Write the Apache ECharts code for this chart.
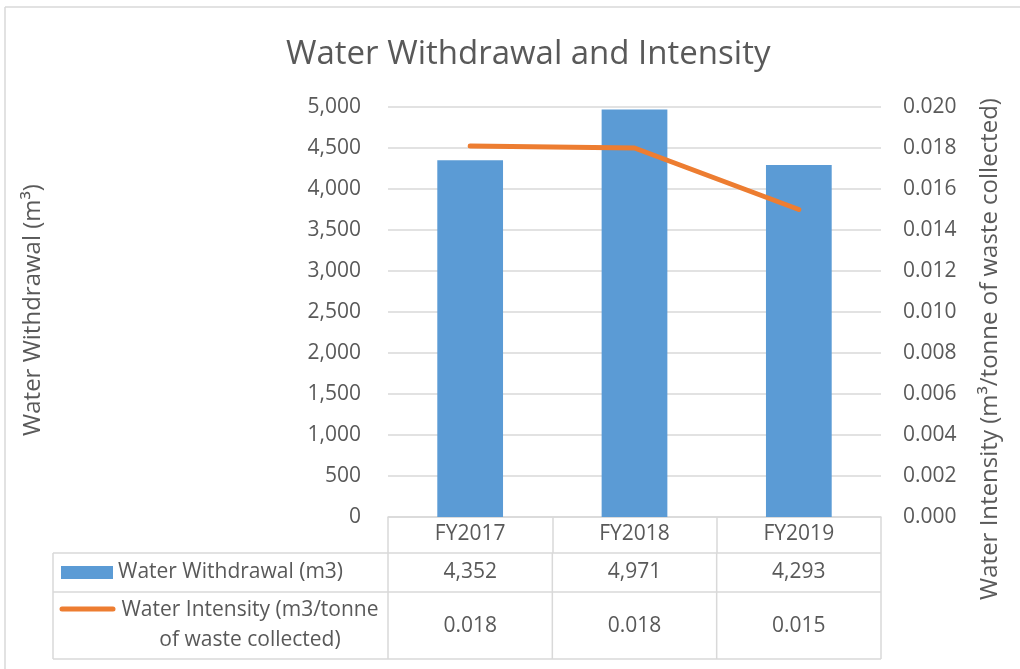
<!DOCTYPE html>
<html>
<head>
<meta charset="utf-8">
<title>Water Withdrawal and Intensity</title>
<script src="https://cdn.jsdelivr.net/npm/echarts@6/dist/echarts.min.js"></script>
<style>
  html, body { margin: 0; padding: 0; background: #fff; }
  #main { width: 1020px; height: 669px; }
</style>
</head>
<body>
<div id="main"></div>
<script>
// data
var years = ['FY2017', 'FY2018', 'FY2019'];
var withdrawal = [4352, 4971, 4293];
var intensity = [0.0181, 0.0180, 0.0150];
var intensityShown = [0.018, 0.018, 0.015];
var seriesNames = ['Water Withdrawal (m3)', 'Water Intensity (m3/tonne\nof waste collected)'];

var FONT = 'Open Sans';
var TXT = '#595959';
var LINE = '#D9D9D9';
var BLUE = '#5B9BD5';
var ORANGE = '#ED7D31';

var chart = echarts.init(document.getElementById('main'));

var option = {
  backgroundColor: '#fff',
  animation: false,
  textStyle: { fontFamily: FONT, color: TXT },
  title: {
    text: 'Water Withdrawal and Intensity',
    left: 281,
    top: 33,
    textStyle: { fontFamily: FONT, fontSize: 33, fontWeight: 'normal', color: TXT }
  },
  grid: { left: 388, right: 139, top: 107, bottom: 152 },
  xAxis: {
    type: 'category',
    data: years,
    axisLine: { lineStyle: { color: LINE, width: 1.5 } },
    axisTick: { show: true, length: 36, lineStyle: { color: LINE, width: 1.5 } },
    axisLabel: { margin: 7, fontSize: 21, color: TXT, fontFamily: FONT }
  },
  yAxis: [{
    type: 'value',
    min: 0, max: 5000, interval: 500,
    axisLine: { show: false },
    axisTick: { show: false },
    splitLine: { lineStyle: { color: LINE, width: 1.5 } },
    axisLabel: {
      margin: 27, fontSize: 21, color: TXT, fontFamily: FONT,
      formatter: function (v) { return v.toLocaleString('en-US'); }
    }
  }, {
    type: 'value',
    min: 0, max: 0.02, interval: 0.002,
    axisLine: { show: false },
    axisTick: { show: false },
    splitLine: { show: false },
    axisLabel: {
      margin: 22, fontSize: 21, color: TXT, fontFamily: FONT,
      formatter: function (v) { return v.toFixed(3); }
    }
  }],
  series: [{
    name: seriesNames[0],
    type: 'bar',
    data: withdrawal,
    barWidth: '40%',
    itemStyle: { color: BLUE },
    yAxisIndex: 0
  }, {
    name: seriesNames[1],
    type: 'line',
    data: intensity,
    yAxisIndex: 1,
    symbol: 'none',
    lineStyle: { color: ORANGE, width: 5, cap: 'round' },
    itemStyle: { color: ORANGE }
  }]
};
chart.setOption(option);

// 数据表 (data table under the plot)
function drawTable() {
  var edges = [];
  var half = (chart.convertToPixel({ xAxisIndex: 0 }, 1) - chart.convertToPixel({ xAxisIndex: 0 }, 0)) / 2;
  for (var i = 0; i < years.length; i++) {
    var c = chart.convertToPixel({ xAxisIndex: 0 }, i);
    if (i === 0) edges.push(c - half);
    edges.push(c + half);
  }
  var tLeft = 53, r0 = 553, r1 = 592, r2 = 659;
  var right = edges[edges.length - 1];
  var f = '21px "' + FONT + '"';
  var els = [];
  var ls = { stroke: LINE, lineWidth: 1.5 };
  [r0, r1, r2].forEach(function (y) {
    els.push({ type: 'line', shape: { x1: tLeft, y1: y, x2: right, y2: y }, style: ls, silent: true });
  });
  [tLeft].concat(edges).forEach(function (x) {
    els.push({ type: 'line', shape: { x1: x, y1: r0, x2: x, y2: r2 }, style: ls, silent: true });
  });
  // legend keys
  els.push({ type: 'rect', shape: { x: 61, y: 566, width: 52, height: 13 }, style: { fill: BLUE } });
  els.push({ type: 'line', shape: { x1: 62, y1: 609, x2: 113, y2: 609 },
    style: { stroke: ORANGE, lineWidth: 5, lineCap: 'round' } });
  els.push({ type: 'text', x: 118, y: 572, style: {
    text: seriesNames[0], font: f, fill: TXT, textAlign: 'left', textVerticalAlign: 'middle' } });
  els.push({ type: 'text', x: 250, y: 625, style: {
    text: seriesNames[1], font: f, fill: TXT, textAlign: 'center',
    textVerticalAlign: 'middle', lineHeight: 30 } });
  for (var j = 0; j < years.length; j++) {
    var cx = chart.convertToPixel({ xAxisIndex: 0 }, j);
    els.push({ type: 'text', x: cx, y: 572, style: {
      text: withdrawal[j].toLocaleString('en-US'), font: f, fill: TXT,
      textAlign: 'center', textVerticalAlign: 'middle' } });
    els.push({ type: 'text', x: cx, y: 626, style: {
      text: intensityShown[j].toFixed(3), font: f, fill: TXT,
      textAlign: 'center', textVerticalAlign: 'middle' } });
  }
  // axis names
  els.push({ type: 'text', x: 33, y: 310, rotation: Math.PI / 2, style: {
    text: 'Water Withdrawal (m\u00b3)', font: '24px "' + FONT + '"', fill: TXT,
    textAlign: 'center', textVerticalAlign: 'middle' } });
  els.push({ type: 'text', x: 990, y: 349, rotation: Math.PI / 2, style: {
    text: 'Water Intensity (m\u00b3/tonne of waste collected)', font: '24px "' + FONT + '"', fill: TXT,
    textAlign: 'center', textVerticalAlign: 'middle' } });
  // chart border
  els.push({ type: 'line', shape: { x1: 5, y1: 7, x2: 1020, y2: 7 }, style: ls, silent: true });
  els.push({ type: 'line', shape: { x1: 5, y1: 7, x2: 5, y2: 669 }, style: ls, silent: true });
  chart.setOption({ graphic: els });
}
drawTable();
</script>
</body>
</html>
